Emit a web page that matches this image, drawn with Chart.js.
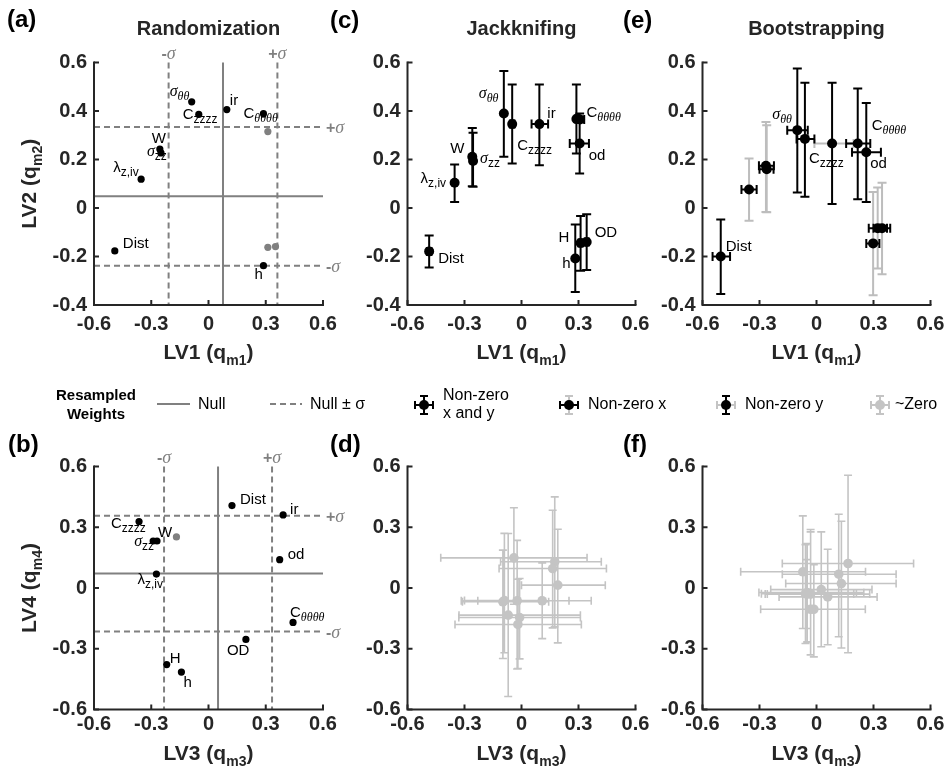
<!DOCTYPE html>
<html><head><meta charset="utf-8">
<script src="https://cdn.jsdelivr.net/npm/chart.js@4.4.1/dist/chart.umd.min.js"></script>
<style>
html,body{margin:0;padding:0;background:#fff;}
#wrap{position:relative;width:948px;height:776px;overflow:hidden;background:#fff;}
canvas{position:absolute;left:0;top:0;}
</style></head><body><div id="wrap">
<canvas id="ca" width="948" height="776"></canvas>
<canvas id="cc" width="948" height="776"></canvas>
<canvas id="ce" width="948" height="776"></canvas>
<canvas id="cb" width="948" height="776"></canvas>
<canvas id="cd" width="948" height="776"></canvas>
<canvas id="cf" width="948" height="776"></canvas>
</div>
<script>
// ---------------- DATA ----------------
const xTicks = [-0.6, -0.3, 0, 0.3, 0.6];
const yTicksTop = [-0.4, -0.2, 0, 0.2, 0.4, 0.6];
const yTicksBottom = [-0.6, -0.3, 0, 0.3, 0.6];

// (a) Randomization, LV1 vs LV2 (1 = significant/black, 0 = grey)
const namesA = ['stt', 'Czzzz', 'ir', 'Ctttt', '', 'W', 'szz', 'lziv', 'Dist', '', '', 'h'];
const xA = [-0.088, -0.051, 0.096, 0.288, 0.311, -0.255, -0.249, -0.353, -0.491, 0.311, 0.351, 0.288];
const yA = [0.438, 0.386, 0.406, 0.389, 0.315, 0.243, 0.227, 0.119, -0.177, -0.162, -0.159, -0.238];
const sigA = [1, 1, 1, 1, 0, 1, 1, 1, 1, 0, 0, 1];
const nullA = [0.076, 0.048];
const sigmaA = [0.285, 0.286];

// (b) Randomization, LV3 vs LV4
const namesB = ['Dist', 'ir', 'Czzzz', 'szz', 'W', '', 'lziv', 'od', 'Ctttt', 'OD', 'H', 'h'];
const xB = [0.123, 0.391, -0.364, -0.290, -0.270, -0.168, -0.273, 0.373, 0.443, 0.196, -0.219, -0.142];
const yB = [0.407, 0.361, 0.328, 0.232, 0.232, 0.252, 0.069, 0.140, -0.170, -0.254, -0.378, -0.415];
const sigB = [1, 1, 1, 1, 1, 0, 1, 1, 1, 1, 1, 1];
const nullB = [0.050, 0.071];
const sigmaB = [0.283, 0.286];

// (c) Jackknifing, LV1 vs LV2
const namesC = ['Dist', 'lziv', 'W', 'szz', 'stt', 'Czzzz', 'ir', 'Ctttt', '', 'od', 'h', 'H', 'OD'];
const xC   = [-0.486, -0.352, -0.259, -0.255, -0.093, -0.049, 0.094, 0.289, 0.308, 0.306, 0.283, 0.311, 0.343];
const yC   = [-0.179, 0.104, 0.211, 0.194, 0.390, 0.346, 0.346, 0.367, 0.365, 0.266, -0.208, -0.144, -0.140];
const xLoC = [-0.498, -0.352, -0.259, -0.255, -0.093, -0.061, 0.053, 0.280, 0.290, 0.254, 0.283, 0.300, 0.332];
const xHiC = [-0.474, -0.352, -0.259, -0.255, -0.093, -0.037, 0.140, 0.298, 0.330, 0.355, 0.283, 0.322, 0.354];
const yLoC = [-0.245, 0.025, 0.090, 0.088, 0.211, 0.183, 0.176, 0.225, 0.355, 0.142, -0.346, -0.259, -0.256];
const yHiC = [-0.113, 0.179, 0.330, 0.310, 0.565, 0.509, 0.509, 0.509, 0.375, 0.390, -0.068, -0.033, -0.026];
const typeC = ['xy', 'xy', 'xy', 'xy', 'xy', 'xy', 'xy', 'xy', 'xy', 'xy', 'xy', 'xy', 'xy'];

// (d) Jackknifing, LV3 vs LV4
const xD   = [-0.040, 0.175, 0.164, 0.191, 0.109, -0.023, -0.098, -0.090, -0.070, -0.010, -0.019];
const yD   = [0.149, 0.130, 0.096, 0.014, -0.063, -0.063, -0.068, -0.062, -0.134, -0.146, -0.180];
const xLoD = [-0.425, -0.110, -0.118, 0.000, -0.317, -0.230, -0.311, -0.300, -0.329, -0.330, -0.350];
const xHiD = [0.345, 0.420, 0.447, 0.441, 0.367, 0.250, 0.143, 0.100, 0.310, 0.310, 0.315];
const yLoD = [-0.080, -0.192, -0.197, -0.271, -0.250, -0.400, -0.348, -0.320, -0.536, -0.350, -0.398];
const yHiD = [0.396, 0.450, 0.384, 0.290, 0.124, 0.235, 0.187, 0.270, 0.269, 0.047, 0.043];
const typeD = ['z', 'z', 'z', 'z', 'z', 'z', 'z', 'z', 'z', 'z', 'z'];

// (e) Bootstrapping, LV1 vs LV2
const namesE = ['Dist', '', '', '', 'stt', 'Czzzz', '', 'Ctttt', 'od', '', '', ''];
const xE   = [-0.504, -0.355, -0.266, -0.262, -0.101, -0.061, 0.082, 0.217, 0.262, 0.298, 0.322, 0.345];
const yE   = [-0.200, 0.076, 0.174, 0.160, 0.321, 0.285, 0.266, 0.266, 0.230, -0.146, -0.083, -0.083];
const xLoE = [-0.547, -0.395, -0.303, -0.300, -0.154, -0.105, -0.011, 0.156, 0.187, 0.262, 0.275, 0.300];
const xHiE = [-0.455, -0.315, -0.224, -0.226, -0.046, -0.011, 0.195, 0.283, 0.339, 0.331, 0.371, 0.388];
const yLoE = [-0.355, -0.053, -0.016, -0.018, 0.064, 0.046, 0.016, 0.036, 0.025, -0.360, -0.249, -0.273];
const yHiE = [-0.047, 0.204, 0.355, 0.341, 0.575, 0.517, 0.517, 0.493, 0.433, 0.066, 0.085, 0.104];
const typeE = ['xy', 'x', 'x', 'x', 'xy', 'xy', 'y', 'xy', 'xy', 'x', 'x', 'x'];

// (f) Bootstrapping, LV3 vs LV4
const xF   = [0.166, -0.072, 0.117, 0.131, 0.025, 0.059, -0.049, -0.031, -0.058, -0.014, -0.031, -0.050];
const yF   = [0.121, 0.080, 0.068, 0.022, -0.008, -0.044, -0.022, -0.030, -0.028, -0.105, -0.105, -0.030];
const xLoF = [-0.180, -0.399, -0.180, -0.162, -0.241, -0.197, -0.303, -0.259, -0.290, -0.294, -0.294, -0.270];
const xHiF = [0.511, 0.258, 0.419, 0.419, 0.292, 0.319, 0.249, 0.196, 0.210, 0.257, 0.257, 0.280];
const yLoF = [-0.320, -0.200, -0.241, -0.296, -0.290, -0.280, -0.266, -0.330, -0.274, -0.340, -0.330, -0.200];
const yHiF = [0.557, 0.356, 0.364, 0.330, 0.277, 0.191, 0.219, 0.289, 0.214, 0.115, 0.277, 0.140];
const typeF = ['z', 'z', 'z', 'z', 'z', 'z', 'z', 'z', 'z', 'z', 'z', 'z'];

// ---------------- LABEL TEXT & PLACEMENT ----------------
const labelText = {
  Dist: [['Dist', 'n']], ir: [['ir', 'n']], W: [['W', 'n']], h: [['h', 'n']], H: [['H', 'n']],
  od: [['od', 'n']], OD: [['OD', 'n']],
  Czzzz: [['C', 'n'], ['zzzz', 's']],
  Ctttt: [['C', 'n'], ['θθθθ', 'gs']],
  stt: [['σ', 'g'], ['θθ', 'gs']],
  szz: [['σ', 'g'], ['zz', 's']],
  lziv: [['λ', 'n'], ['z,iv', 's']]
};
// pixel offsets (text left, baseline) relative to the marker
const offA = {stt: [-22, -6], Czzzz: [-16, 5], ir: [3, -5], Ctttt: [-20, 4], W: [-8, -6], szz: [-14, 3], lziv: [-28, -7], Dist: [8, -3], h: [-9, 13]};
const offB = {Dist: [8, -2], ir: [7, -1], Czzzz: [-28, 6], szz: [-19, 5], W: [1, -4], lziv: [-19, 10], od: [8, -1], Ctttt: [-3, -5], OD: [-19, 16], H: [3, -2], h: [2, 15]};
const offC = {stt: [-25, -15], Czzzz: [5, 26], ir: [8, -6], Ctttt: [10, -2], od: [9, 17], W: [-22, -4], szz: [7, 2], lziv: [-34, 0], Dist: [9, 12], H: [-22, -1], h: [-13, 10], OD: [8, -5]};
const offE = {stt: [-25, -11], Ctttt: [14, -13], Czzzz: [4, 24], od: [4, 16], Dist: [5, -6]};

// ---------------- STYLE ----------------
const SANS = '"Liberation Sans", Arial, sans-serif';
const SERIF = '"Liberation Serif", "Times New Roman", serif';
const DARK = '#262626';
const NULLC = '#808080';
const GREYPT = '#808080';
const LIGHT = '#c4c4c4';
const YW = 60, XH = 40;

const ST_LABEL = {
  n: {f: '15px ' + SANS, dy: 0}, g: {f: 'italic 16px ' + SERIF, dy: 0},
  s: {f: '12px ' + SANS, dy: 4}, gs: {f: 'italic 12px ' + SERIF, dy: 4}
};
const ST_AX = {b: {f: 'bold 21px ' + SANS, dy: 0}, bs: {f: 'bold 14px ' + SANS, dy: 6}};
const ST_SIG = {p: {f: 'bold 16px ' + SANS, dy: 0}, g: {f: 'italic 18px ' + SERIF, dy: 0}};

function drawRich(ctx, x, y, segs, styles, align, color) {
  ctx.save();
  ctx.textBaseline = 'alphabetic';
  ctx.textAlign = 'left';
  let w = 0;
  const ws = segs.map(s => { ctx.font = styles[s[1]].f; const m = ctx.measureText(s[0]).width; w += m; return m; });
  let cx = x;
  if (align === 'center') cx = x - w / 2; else if (align === 'right') cx = x - w;
  ctx.fillStyle = color || '#000';
  segs.forEach((s, i) => { ctx.font = styles[s[1]].f; ctx.fillText(s[0], cx, y + styles[s[1]].dy); cx += ws[i]; });
  ctx.restore();
}

function fmt(v) { return Math.abs(v) < 1e-9 ? '0' : String(Math.round(v * 10) / 10); }

function line(ctx, x1, y1, x2, y2) { ctx.moveTo(x1, y1); ctx.lineTo(x2, y2); }

function errSeg(ctx, a, b, c, horiz, cap) {
  if (horiz) { line(ctx, a, c, b, c); line(ctx, a, c - cap, a, c + cap); line(ctx, b, c - cap, b, c + cap); }
  else { line(ctx, c, a, c, b); line(ctx, c - cap, a, c + cap, a); line(ctx, c - cap, b, c + cap, b); }
}

function drawIcon(ctx, cx, cy, type) {
  const hx = (type === 'xy' || type === 'x') ? '#000' : LIGHT;
  const vy = (type === 'xy' || type === 'y') ? '#000' : LIGHT;
  ctx.save(); ctx.lineWidth = 2;
  const grey = [], black = [];
  (hx === '#000' ? black : grey).push(true);
  const draws = [[hx, true], [vy, false]].sort((a, b) => (a[0] === '#000') - (b[0] === '#000'));
  draws.forEach(d => {
    ctx.strokeStyle = d[0]; ctx.beginPath();
    if (d[1]) errSeg(ctx, cx - 9, cx + 9, cy, true, 4); else errSeg(ctx, cy - 9, cy + 9, cx, false, 4);
    ctx.stroke();
  });
  ctx.fillStyle = type === 'z' ? LIGHT : '#000';
  ctx.beginPath(); ctx.arc(cx, cy, 5, 0, Math.PI * 2); ctx.fill();
  ctx.restore();
}

function panelPlugin(p) {
  return {
    id: 'panel_' + p.id,
    beforeDatasetsDraw(chart) {
      const ctx = chart.ctx, xs = chart.scales.x, ys = chart.scales.y, A = chart.chartArea;
      ctx.save();
      if (p.nul) {
        const nx = xs.getPixelForValue(p.nul[0]), ny = ys.getPixelForValue(p.nul[1]);
        ctx.strokeStyle = NULLC; ctx.lineWidth = 2;
        ctx.beginPath(); line(ctx, nx, A.top, nx, A.bottom); line(ctx, A.left, ny, A.right, ny); ctx.stroke();
        ctx.setLineDash([6, 4]);
        const xm = xs.getPixelForValue(p.nul[0] - p.sig[0]), xp = xs.getPixelForValue(p.nul[0] + p.sig[0]);
        const yp = ys.getPixelForValue(p.nul[1] + p.sig[1]), ym = ys.getPixelForValue(p.nul[1] - p.sig[1]);
        ctx.beginPath();
        line(ctx, xm, A.top, xm, A.bottom); line(ctx, xp, A.top, xp, A.bottom);
        line(ctx, A.left, yp, A.right, yp); line(ctx, A.left, ym, A.right, ym);
        ctx.stroke(); ctx.setLineDash([]);
        drawRich(ctx, xm, A.top - 4, [['-', 'p'], ['σ', 'g']], ST_SIG, 'center', NULLC);
        drawRich(ctx, xp, A.top - 4, [['+', 'p'], ['σ', 'g']], ST_SIG, 'center', NULLC);
        drawRich(ctx, A.right + 3, yp + 6, [['+', 'p'], ['σ', 'g']], ST_SIG, 'left', NULLC);
        drawRich(ctx, A.right + 3, ym + 6, [['-', 'p'], ['σ', 'g']], ST_SIG, 'left', NULLC);
      }
      if (p.err) {
        const e = p.err;
        const cap = p.cap, lw = p.lw;
        ['grey', 'black'].forEach(pass => {
          ctx.lineWidth = lw;
          ctx.strokeStyle = pass === 'black' ? '#000' : p.lightErr;
          ctx.beginPath();
          e.x.forEach((xv, i) => {
            const t = e.t[i];
            const hBlack = (t === 'xy' || t === 'x'), vBlack = (t === 'xy' || t === 'y');
            const px = xs.getPixelForValue(xv), py = ys.getPixelForValue(e.y[i]);
            if ((pass === 'black') === hBlack) errSeg(ctx, xs.getPixelForValue(e.xl[i]), xs.getPixelForValue(e.xh[i]), py, true, cap);
            if ((pass === 'black') === vBlack) errSeg(ctx, ys.getPixelForValue(e.yl[i]), ys.getPixelForValue(e.yh[i]), px, false, cap);
          });
          ctx.stroke();
        });
      }
      ctx.restore();
    },
    afterDraw(chart) {
      const ctx = chart.ctx, xs = chart.scales.x, ys = chart.scales.y, A = chart.chartArea;
      ctx.save();
      // axes (box off, ticks pointing inwards)
      ctx.strokeStyle = DARK; ctx.lineWidth = 2; ctx.lineCap = 'square';
      ctx.beginPath(); line(ctx, A.left, A.top, A.left, A.bottom); line(ctx, A.left, A.bottom, A.right, A.bottom); ctx.stroke();
      ctx.lineCap = 'butt';
      ctx.beginPath();
      xTicks.forEach(v => { const px = xs.getPixelForValue(v); line(ctx, px, A.bottom, px, A.bottom - 5); });
      p.yTicks.forEach(v => { const py = ys.getPixelForValue(v); line(ctx, A.left, py, A.left + 5, py); });
      ctx.stroke();
      // point labels
      if (p.names) {
        p.names.forEach((nm, i) => {
          if (!nm || !p.off[nm]) return;
          const px = xs.getPixelForValue(p.lx[i]), py = ys.getPixelForValue(p.ly[i]);
          drawRich(ctx, px + p.off[nm][0], py + p.off[nm][1], labelText[nm], ST_LABEL, 'left', p.labelColor || '#000');
        });
      }
      // titles
      if (p.title) {
        ctx.font = 'bold 20px ' + SANS; ctx.fillStyle = DARK; ctx.textAlign = 'center'; ctx.textBaseline = 'alphabetic';
        ctx.fillText(p.title, (A.left + A.right) / 2, 35);
      }
      ctx.font = 'bold 24px ' + SANS; ctx.fillStyle = '#000'; ctx.textAlign = 'left'; ctx.textBaseline = 'alphabetic';
      ctx.fillText(p.tag[0], p.tag[1], p.tag[2]);
      if (p.xTitle) drawRich(ctx, (A.left + A.right) / 2, A.bottom + p.xTitleDy, p.xTitle, ST_AX, 'center', DARK);
      if (p.yTitle) {
        ctx.save(); ctx.translate(36, (A.top + A.bottom) / 2); ctx.rotate(-Math.PI / 2);
        drawRich(ctx, 0, 0, p.yTitle, ST_AX, 'center', DARK); ctx.restore();
      }
      if (p.legend) drawLegend(ctx);
      ctx.restore();
    }
  };
}

function drawLegend(ctx) {
  ctx.save();
  ctx.fillStyle = '#000'; ctx.textBaseline = 'alphabetic';
  ctx.font = 'bold 15px ' + SANS; ctx.textAlign = 'center';
  ctx.fillText('Resampled', 96, 400); ctx.fillText('Weights', 96, 419);
  ctx.strokeStyle = NULLC; ctx.lineWidth = 2;
  ctx.beginPath(); line(ctx, 157, 404, 190, 404); ctx.stroke();
  ctx.setLineDash([6, 4]); ctx.beginPath(); line(ctx, 270, 404, 302, 404); ctx.stroke(); ctx.setLineDash([]);
  ctx.font = '16px ' + SANS; ctx.textAlign = 'left'; ctx.fillStyle = '#000';
  ctx.fillText('Null', 198, 409);
  ctx.fillText('Null ± σ', 310, 409);
  drawIcon(ctx, 424, 405, 'xy');
  ctx.fillText('Non-zero', 443, 400); ctx.fillText('x and y', 443, 418);
  drawIcon(ctx, 569, 405, 'x');
  ctx.fillText('Non-zero x', 588, 409);
  drawIcon(ctx, 726, 405, 'y');
  ctx.fillText('Non-zero y', 745, 409);
  drawIcon(ctx, 880, 405, 'z');
  ctx.fillText('~Zero', 895, 409);
  ctx.restore();
}

function pts(xv, yv, keep) {
  const out = [];
  xv.forEach((x, i) => { if (keep(i)) out.push({x: x, y: yv[i]}); });
  return out;
}

function makeChart(p) {
  return new Chart(document.getElementById(p.id), {
    type: 'scatter',
    data: {datasets: p.datasets},
    options: {
      responsive: false, animation: false, events: [],
      layout: {padding: {left: p.area[0] - YW, top: p.area[1], right: 948 - p.area[2], bottom: 776 - p.area[3] - XH}},
      plugins: {legend: {display: false}, tooltip: {enabled: false}},
      scales: {
        x: {
          type: 'linear', min: -0.6, max: 0.6,
          grid: {display: false, drawTicks: false}, border: {display: false},
          ticks: {font: {family: SANS, size: 20, weight: 'bold'}, color: DARK, padding: p.xPad, maxRotation: 0, autoSkip: false, callback: v => fmt(v)},
          afterBuildTicks: s => { s.ticks = xTicks.map(v => ({value: v})); },
          afterFit: s => { s.height = XH; s.paddingLeft = 0; s.paddingRight = 0; }
        },
        y: {
          type: 'linear', min: p.yTicks[0], max: p.yTicks[p.yTicks.length - 1],
          grid: {display: false, drawTicks: false}, border: {display: false},
          ticks: {font: {family: SANS, size: 20, weight: 'bold'}, color: DARK, padding: 7, autoSkip: false, callback: v => fmt(v)},
          afterBuildTicks: s => { s.ticks = p.yTicks.map(v => ({value: v})); },
          afterFit: s => { s.width = YW; s.paddingTop = 0; s.paddingBottom = 0; }
        }
      }
    },
    plugins: [panelPlugin(p)]
  });
}

function dotSets(xv, yv, sig, r) {
  return [
    {data: pts(xv, yv, i => !sig[i]), pointRadius: r, pointBackgroundColor: GREYPT, pointBorderWidth: 0, showLine: false},
    {data: pts(xv, yv, i => !!sig[i]), pointRadius: r, pointBackgroundColor: '#000', pointBorderWidth: 0, showLine: false}
  ];
}
function errSets(xv, yv, tv, r) {
  return [
    {data: pts(xv, yv, i => tv[i] === 'z'), pointRadius: r, pointBackgroundColor: LIGHT, pointBorderWidth: 0, showLine: false},
    {data: pts(xv, yv, i => tv[i] !== 'z'), pointRadius: r, pointBackgroundColor: '#000', pointBorderWidth: 0, showLine: false}
  ];
}

const TOP = [62.5, 305], BOT = [466.5, 709.5];
const lv12x = [['LV1 (q', 'b'], ['m1', 'bs'], [')', 'b']];
const lv34x = [['LV3 (q', 'b'], ['m3', 'bs'], [')', 'b']];

makeChart({id: 'ca', area: [94, TOP[0], 323, TOP[1]], yTicks: yTicksTop, xPad: 7, title: 'Randomization', tag: ['(a)', 7, 27],
  xTitle: lv12x, xTitleDy: 54, yTitle: [['LV2 (q', 'b'], ['m2', 'bs'], [')', 'b']], legend: true,
  nul: nullA, sig: sigmaA, names: namesA, lx: xA, ly: yA, off: offA, datasets: dotSets(xA, yA, sigA, 3.6)});
makeChart({id: 'cc', area: [407.5, TOP[0], 635.5, TOP[1]], yTicks: yTicksTop, xPad: 7, title: 'Jackknifing', tag: ['(c)', 330, 28],
  xTitle: lv12x, xTitleDy: 54,
  err: {x: xC, y: yC, xl: xLoC, xh: xHiC, yl: yLoC, yh: yHiC, t: typeC}, cap: 4.5, lw: 2, lightErr: LIGHT,
  names: namesC, lx: xC, ly: yC, off: offC, datasets: errSets(xC, yC, typeC, 5)});
makeChart({id: 'ce', area: [702.5, TOP[0], 930.5, TOP[1]], yTicks: yTicksTop, xPad: 7, title: 'Bootstrapping', tag: ['(e)', 623, 28],
  xTitle: lv12x, xTitleDy: 54,
  err: {x: xE, y: yE, xl: xLoE, xh: xHiE, yl: yLoE, yh: yHiE, t: typeE}, cap: 4.5, lw: 2, lightErr: '#bdbdbd',
  names: namesE, lx: xE, ly: yE, off: offE, datasets: errSets(xE, yE, typeE, 5)});
makeChart({id: 'cb', area: [94, BOT[0], 323, BOT[1]], yTicks: yTicksBottom, xPad: 3, tag: ['(b)', 8, 452],
  xTitle: lv34x, xTitleDy: 50, yTitle: [['LV4 (q', 'b'], ['m4', 'bs'], [')', 'b']],
  nul: nullB, sig: sigmaB, names: namesB, lx: xB, ly: yB, off: offB, datasets: dotSets(xB, yB, sigB, 3.6)});
makeChart({id: 'cd', area: [407.5, BOT[0], 635.5, BOT[1]], yTicks: yTicksBottom, xPad: 3, tag: ['(d)', 330, 452],
  xTitle: lv34x, xTitleDy: 50,
  err: {x: xD, y: yD, xl: xLoD, xh: xHiD, yl: yLoD, yh: yHiD, t: typeD}, cap: 4, lw: 1.6, lightErr: LIGHT,
  datasets: errSets(xD, yD, typeD, 4.8)});
makeChart({id: 'cf', area: [702.5, BOT[0], 930.5, BOT[1]], yTicks: yTicksBottom, xPad: 3, tag: ['(f)', 623, 452],
  xTitle: lv34x, xTitleDy: 50,
  err: {x: xF, y: yF, xl: xLoF, xh: xHiF, yl: yLoF, yh: yHiF, t: typeF}, cap: 4, lw: 1.6, lightErr: LIGHT,
  datasets: errSets(xF, yF, typeF, 4.8)});
</script>
</body></html>
